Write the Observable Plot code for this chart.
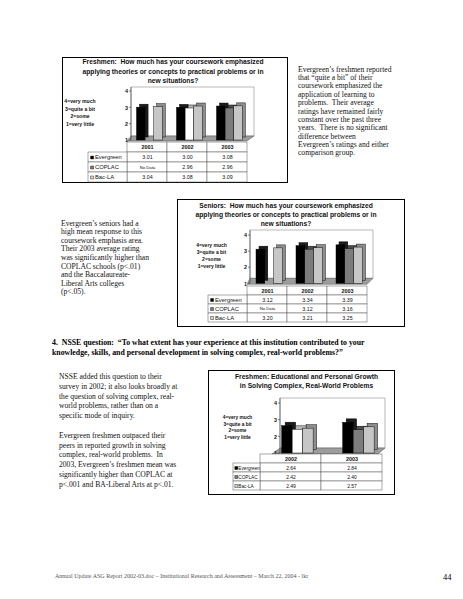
<!DOCTYPE html>
<html><head><meta charset="utf-8">
<script src="https://cdn.jsdelivr.net/npm/d3@7"></script>
<script src="https://cdn.jsdelivr.net/npm/@observablehq/plot@0.6"></script>
<style>
html,body{margin:0;padding:0;background:#fff;}
#page{position:relative;width:463px;height:599px;overflow:hidden;background:#fff;}
.abs{position:absolute;white-space:nowrap;}
.serif{font-family:"Liberation Serif","Times New Roman",serif;color:#111;}
.box{position:absolute;border:0.8px solid #000;box-sizing:border-box;}
.sans{font-family:"Liberation Sans",Arial,sans-serif;color:#111;}
.ctitle{position:absolute;font-weight:bold;text-align:center;white-space:pre;transform:translateX(-50%);}
.legend{position:absolute;font-weight:bold;text-align:center;white-space:pre;transform:translateX(-50%);}
#page svg{position:absolute;overflow:visible;}
</style></head>
<body><div id="page">
<div class="abs serif" style="left:298px;top:65.8px;font-size:7.6px;line-height:8.35px;">Evergreen’s freshmen reported<br>that “quite a bit” of their<br>coursework emphasized the<br>application of learning to<br>problems.&nbsp; Their average<br>ratings have remained fairly<br>constant over the past three<br>years.&nbsp; There is no significant<br>difference between<br>Evergreen’s ratings and either<br>comparison group.</div>
<div class="abs serif" style="left:61px;top:219.7px;font-size:7.6px;line-height:8.6px;">Evergreen’s seniors had a<br>high mean response to this<br>coursework emphasis area.<br>Their 2003 average rating<br>was significantly higher than<br>COPLAC schools (p&lt;.01)<br>and the Baccalaureate-<br>Liberal Arts colleges<br>(p&lt;.05).</div>
<div class="abs serif" style="left:52px;top:338px;font-size:7.8px;line-height:10px;font-weight:bold;color:#000;">4.&nbsp; NSSE question:&nbsp; “To what extent has your experience at this institution contributed to your<br>knowledge, skills, and personal development in solving complex, real-world problems?”</div>
<div class="abs serif" style="left:59px;top:372.1px;font-size:7.6px;line-height:9.8px;">NSSE added this question to their<br>survey in 2002; it also looks broadly at<br>the question of solving complex, real-<br>world problems, rather than on a<br>specific mode of inquiry.<br><br>Evergreen freshmen outpaced their<br>peers in reported growth in solving<br>complex, real-world problems.&nbsp; In<br>2003, Evergreen’s freshmen mean was<br>significantly higher than COPLAC at<br>p&lt;.001 and BA-Liberal Arts at p&lt;.01.</div>
<div class="abs serif" style="left:55px;top:572.5px;font-size:6px;line-height:7px;color:#555;">Annual Update ASG Report 2002-03.doc – Institutional Research and Assessment – March 22, 2004 - lkr</div>
<div class="abs serif" style="left:443px;top:572px;font-size:8.5px;line-height:10px;color:#000;">44</div>
</div>
<script>
// ---- data ----
const seriesNames = ["Evergreen", "COPLAC", "Bac-LA"];
const scaleTicks = [1, 2, 3, 4];
const scaleLabels = ["4=very much", "3=quite a bit", "2=some", "1=very little"];

const freshYears = ["2001", "2002", "2003"];
const freshEvergreen = [3.01, 3.00, 3.08];
const freshCoplac = [null, 2.96, 2.96];
const freshBacLA = [3.04, 3.08, 3.09];
const freshTitle = ["Freshmen:  How much has your coursework emphasized", "applying theories or concepts to practical problems or in", "new situations?"];

const seniorYears = ["2001", "2002", "2003"];
const seniorEvergreen = [3.12, 3.34, 3.39];
const seniorCoplac = [null, 3.12, 3.16];
const seniorBacLA = [3.20, 3.21, 3.25];
const seniorTitle = ["Seniors:  How much has your coursework emphasized", "applying theories or concepts to practical problems or in", "new situations?"];

const growthYears = ["2002", "2003"];
const growthEvergreen = [2.64, 2.84];
const growthCoplac = [2.42, 2.40];
const growthBacLA = [2.49, 2.57];
const growthTitle = ["Freshmen: Educational and Personal Growth", "in Solving Complex, Real-World Problems"];

// ---- layout / style per chart ----
const charts = [
  {years: freshYears, values: [freshEvergreen, freshCoplac, freshBacLA], title: freshTitle,
   box: [62, 57, 226, 126], titleCx: 173, titleY: 61.7, titleLh: 9.7, titleSize: 6.7,
   legendCx: 80, legendY: 101.7, legendLh: 7.8, legendSize: 5.1,
   colL: 127, colW: 40, labelW: 39, yTop: 91, yBot: 140, tableTop: 141, tableH: 41,
   barOff: 0.2375, barW: 0.215, bd: 3, wallL: 4, wallR: 7, wallUp: 4, floorFL: 0, floorFR: 0,
   labelSize: 5.8, valueSize: 5.3, keyDx: 3.6, labelDx: 6.5,
   whiteCoplac: ["2002"]},
  {years: seniorYears, values: [seniorEvergreen, seniorCoplac, seniorBacLA], title: seniorTitle,
   box: [177, 199, 228, 128], titleCx: 286, titleY: 205, titleLh: 9, titleSize: 6.7,
   legendCx: 211.5, legendY: 245, legendLh: 7, legendSize: 5,
   colL: 247, colW: 40, labelW: 39, yTop: 235, yBot: 283.3, tableTop: 284, tableH: 39,
   barOff: 0.225, barW: 0.22, bd: 3, wallL: 3, wallR: 6, wallUp: 5, floorFL: 0, floorFR: 0,
   labelSize: 5.8, valueSize: 5.3, keyDx: 3.6, labelDx: 6.5,
   whiteCoplac: []},
  {years: growthYears, values: [growthEvergreen, growthCoplac, growthBacLA], title: growthTitle,
   box: [208, 370, 187, 125], titleCx: 306.5, titleY: 376, titleLh: 9, titleSize: 6.7,
   legendCx: 237.5, legendY: 418.5, legendLh: 6.6, legendSize: 4.8,
   colL: 260, colW: 61, labelW: 27, yTop: 402.7, yBot: 452.7, tableTop: 453, tableH: 37,
   barOff: 0.355, barW: 0.172, bd: 3.5, wallL: 20, wallR: 3, wallUp: 5, floorFL: 12, floorFR: -4,
   labelSize: 4.7, valueSize: 5, keyDx: 2.8, labelDx: 4.8,
   whiteCoplac: ["2002"]}
];

const page = document.getElementById("page");

function backdrop(c, n) {
  return (index, scales) => {
    const x = scales.x, y = scales.y;
    const xl = x(0), xr = x(n), yb = y(1), yt = y(4);
    const g = d3.create("svg:g");
    const up = c.wallUp;
    g.append("path")
      .attr("d", `M${xl + c.wallL},${yt - up}H${xr + c.wallR}V${yb - up}H${xl + c.wallL}Z`)
      .attr("fill", "#fff").attr("stroke", "#8a8a8a").attr("stroke-width", 0.6);
    g.append("path")
      .attr("d", `M${xl + c.floorFL},${yb + 1}L${xr + c.floorFR},${yb + 1}L${xr + c.wallR},${yb - up}L${xl + c.wallL},${yb - up}Z`)
      .attr("fill", "#9c9c9c").attr("stroke", "#555").attr("stroke-width", 0.5);
    g.append("path")
      .attr("d", `M${xl + c.wallL},${yt - up}V${yb}`)
      .attr("stroke", "#333").attr("stroke-width", 0.6).attr("fill", "none");
    for (const t of scaleTicks) {
      g.append("path").attr("d", `M${xl + c.wallL - 2},${y(t)}h2`)
        .attr("stroke", "#333").attr("stroke-width", 0.6);
    }
    return g.node();
  };
}

function place(el, left, top) {
  el.style.left = left + "px";
  el.style.top = top + "px";
  page.appendChild(el);
}

function drawChart(c) {
  const n = c.years.length;
  const labelU = c.labelW / c.colW;
  const svgL = c.colL - c.labelW;
  const boxR = c.box[0] + c.box[2];
  const width = boxR - svgL;
  const mR = boxR - (c.colL + n * c.colW);

  const box = document.createElement("div");
  box.className = "box";
  box.style.width = c.box[2] + "px";
  box.style.height = c.box[3] + "px";
  place(box, c.box[0], c.box[1]);

  const t = document.createElement("div");
  t.className = "ctitle sans";
  t.style.fontSize = c.titleSize + "px";
  t.style.lineHeight = c.titleLh + "px";
  t.textContent = c.title.join("\n");
  place(t, c.titleCx, c.titleY - c.titleLh / 2);

  const lg = document.createElement("div");
  lg.className = "legend sans";
  lg.style.fontSize = c.legendSize + "px";
  lg.style.lineHeight = c.legendLh + "px";
  lg.textContent = scaleLabels.join("\n");
  place(lg, c.legendCx, c.legendY - c.legendLh / 2);

  const bars = [];
  c.years.forEach((yr, i) => seriesNames.forEach((s, j) => {
    const v = c.values[j][i];
    if (v != null) bars.push({year: yr, series: s, i, j, value: v});
  }));
  const isWhite = d => d.series === "COPLAC" && c.whiteCoplac.includes(d.year);
  const front = d => d.series === "Evergreen" ? "#000" : d.series === "Bac-LA" ? "#c6c6c6" : isWhite(d) ? "#fff" : "#7c7c7c";
  const side = d => d.series === "Evergreen" ? "#1c1c1c" : d.series === "Bac-LA" ? "#8e8e8e" : isWhite(d) ? "#b5b5b5" : "#4e4e4e";
  const x1 = d => d.i + c.barOff + d.j * c.barW;
  const x2 = d => d.i + c.barOff + (d.j + 1) * c.barW;

  const mt = 10, mb = 3;
  const plotH = c.yBot - c.yTop;
  const chart = Plot.plot({
    width, height: mt + plotH + mb,
    marginLeft: 0, marginRight: mR, marginTop: mt, marginBottom: mb,
    x: {domain: [-labelU, n], axis: null},
    y: {domain: [1, 4], axis: null},
    color: {type: "identity"},
    style: {fontFamily: "Liberation Sans, Arial, sans-serif", background: "transparent", overflow: "visible", color: "#111"},
    marks: [
      backdrop(c, n),
      Plot.text(scaleTicks, {x: () => 0, y: d => d, text: d => String(d), dx: c.wallL - 3.5, textAnchor: "end", fontSize: 5.4, fontWeight: "bold", fill: "#111"}),
      Plot.rect(bars, {x1, x2, y1: () => 1, y2: "value", dx: c.bd, dy: -c.bd, fill: side, stroke: "#000", strokeWidth: 0.45}),
      Plot.rect(bars, {x1, x2, y1: () => 1, y2: "value", fill: front, stroke: "#000", strokeWidth: 0.45})
    ]
  });
  place(chart, svgL, c.yTop - mt);

  const rows = ["head", ...seriesNames];
  const yearCells = c.years.map((yr, i) => ({i, row: "head", text: yr}));
  const valueCells = [];
  seriesNames.forEach((s, j) => c.years.forEach((yr, i) => {
    const v = c.values[j][i];
    valueCells.push({i, row: s, text: v == null ? "No Data" : v.toFixed(2), missing: v == null});
  }));
  const labelCells = seriesNames.map(s => ({row: s, series: s}));
  const keyFill = d => d.series === "Evergreen" ? "#000" : d.series === "COPLAC" ? "#7c7c7c" : "#d6d6d6";

  const table = Plot.plot({
    width, height: c.tableH,
    marginLeft: 0, marginRight: mR, marginTop: 0, marginBottom: 0,
    x: {domain: [-labelU, n], axis: null},
    y: {domain: rows, axis: null, padding: 0},
    color: {type: "identity"},
    style: {fontFamily: "Liberation Sans, Arial, sans-serif", background: "transparent", overflow: "visible", color: "#111"},
    marks: [
      Plot.barX([...yearCells, ...valueCells], {x1: d => d.i, x2: d => d.i + 1, y: "row", fill: "#fff", stroke: "#555", strokeWidth: 0.5}),
      Plot.barX(labelCells, {x1: () => -labelU, x2: () => 0, y: "row", fill: "#fff", stroke: "#555", strokeWidth: 0.5}),
      Plot.text(yearCells, {x: d => d.i + 0.5, y: "row", text: "text", fontSize: 5.4, fontWeight: "bold", fill: "#111"}),
      Plot.text(valueCells.filter(d => !d.missing), {x: d => d.i + 0.5, y: "row", text: "text", fontSize: c.valueSize, fill: "#111"}),
      Plot.text(valueCells.filter(d => d.missing), {x: d => d.i + 0.5, y: "row", text: "text", fontSize: 4.2, fill: "#111"}),
      Plot.dot(labelCells, {x: () => -labelU, y: "row", dx: c.keyDx, symbol: "square", r: 1.7, fill: keyFill, stroke: "#000", strokeWidth: 0.4}),
      Plot.text(labelCells, {x: () => -labelU, y: "row", dx: c.labelDx, text: "series", textAnchor: "start", fontSize: c.labelSize, fill: "#111"})
    ]
  });
  place(table, svgL, c.tableTop);
}

charts.forEach(drawChart);
</script>
</body></html>
